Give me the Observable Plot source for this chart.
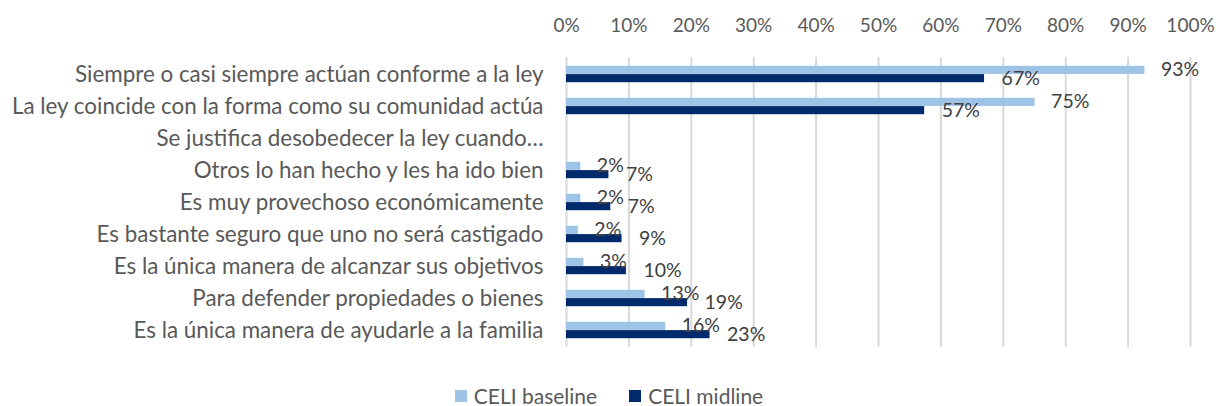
<!DOCTYPE html>
<html>
<head>
<meta charset="utf-8">
<script src="https://cdn.jsdelivr.net/npm/d3@7"></script>
<script src="https://cdn.jsdelivr.net/npm/@observablehq/plot@0.6"></script>
<style>
  html, body { margin: 0; padding: 0; background: #fff; }
  #wrap { position: relative; width: 1218px; height: 406px; font-family: Lato, "Open Sans", sans-serif; }
  #legend { position: absolute; left: 0; top: 383px; width: 1218px; display: flex; justify-content: center; gap: 32px; font-size: 21px; color: #595959; }
  #legend span.item { display: flex; align-items: center; gap: 7px; }
  #legend span.sw { width: 12px; height: 12px; display: inline-block; }
</style>
</head>
<body>
<div id="wrap"><div id="chart"></div><div id="legend"></div></div>
<script>
const categories = [
  "Siempre o casi siempre actúan conforme a la ley",
  "La ley coincide con la forma como su comunidad actúa",
  "Se justifica desobedecer la ley cuando…",
  "Otros lo han hecho y les ha ido bien",
  "Es muy provechoso económicamente",
  "Es bastante seguro que uno no será castigado",
  "Es la única manera de alcanzar sus objetivos",
  "Para defender propiedades o bienes",
  "Es la única manera de ayudarle a la familia"
];
const seriesNames = ["CELI baseline", "CELI midline"];
const baseline = [92.7, 75.1, null, 2.3, 2.3, 1.9, 2.8, 12.6, 15.9];
const midline  = [67.0, 57.4, null, 6.8, 7.1, 8.9, 9.6, 19.4, 23.0];
const xTicks = [0, 10, 20, 30, 40, 50, 60, 70, 80, 90, 100];
const colors = ["#9dc3e6", "#002a6b"];

const rows = [];
categories.forEach((c, i) => {
  if (baseline[i] != null) rows.push({category: c, series: seriesNames[0], value: baseline[i]});
  if (midline[i] != null) rows.push({category: c, series: seriesNames[1], value: midline[i]});
});
const base = rows.filter(d => d.series === seriesNames[0]);
const mid = rows.filter(d => d.series === seriesNames[1]);

const font = "Lato, 'Open Sans', sans-serif";
const chart = Plot.plot({
  width: 1218,
  height: 366,
  marginTop: 57,
  marginBottom: 19,
  marginLeft: 566,
  marginRight: 28,
  style: {fontFamily: font, fontSize: "19px", color: "#595959", background: "#fff"},
  x: {domain: [0, 100], ticks: xTicks, tickFormat: d => d + "%", axis: "top", tickSize: 0, tickPadding: 26, label: null},
  y: {domain: categories, padding: 0, axis: null},
  marks: [
    Plot.ruleX(xTicks, {stroke: "#d9d9d9", strokeWidth: 2}),
    Plot.axisY({tickSize: 0, tickPadding: 23, fontSize: 22.4, label: null, fill: "#595959"}),
    Plot.barX(base, {x: "value", y: "category", fill: colors[0], insetTop: 7.8, insetBottom: 16.1}),
    Plot.barX(mid, {x: "value", y: "category", fill: colors[1], insetTop: 16.1, insetBottom: 7.8}),
    Plot.text(base, {x: "value", y: "category", text: d => Math.round(d.value) + "%", textAnchor: "start", dx: 16, dy: -5, fill: "#404040", fontSize: 19.5}),
    Plot.text(mid, {x: "value", y: "category", text: d => Math.round(d.value) + "%", textAnchor: "start", dx: 17, dy: 4.5, fill: "#404040", fontSize: 19.5})
  ]
});
document.getElementById("chart").appendChild(chart);

const legend = document.getElementById("legend");
seriesNames.forEach((s, i) => {
  const item = document.createElement("span");
  item.className = "item";
  const sw = document.createElement("span");
  sw.className = "sw";
  sw.style.background = colors[i];
  item.appendChild(sw);
  item.appendChild(document.createTextNode(s));
  legend.appendChild(item);
});
</script>
</body>
</html>
